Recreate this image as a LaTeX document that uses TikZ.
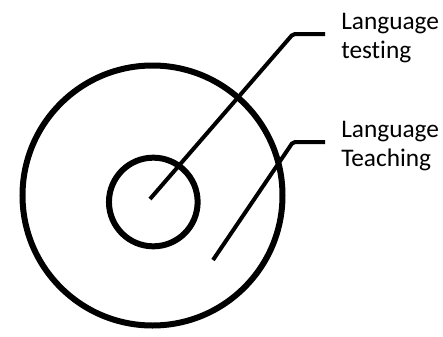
\documentclass[tikz,border=0pt]{standalone}
\usepackage{fontspec}
\setmainfont[Ligatures=NoCommon]{Carlito}

\begin{document}
\begin{tikzpicture}[x=0.75pt,y=-0.75pt,
  ring/.style={draw,circle,line width=4.5pt,inner sep=0pt},
  leader/.style={line width=3pt,rounded corners=1.5pt},
  lbl/.style={anchor=north west,inner sep=0pt,align=left,font=\fontsize{19}{22}\selectfont}]
\useasboundingbox (0,0) rectangle (443,336);
% the two rings
\node[ring,minimum size=195pt] (outer) at (152.5,195.5) {};
\node[ring,minimum size=66.5pt] (inner) at (153.3,202) {};
% labels
\node[lbl] (testing) at (341,12.5) {Language\\testing};
\node[lbl] (teaching) at (341,120.5) {Language\\Teaching};
% leader lines
\coordinate (tip1) at (150,199);
\coordinate (bend1) at (293,34);
\coordinate (tip2) at (213,260);
\coordinate (bend2) at (293,142);
\draw[leader] (tip1) -- (bend1) -- ([xshift=-12pt]testing.west |- bend1);
\draw[leader] (tip2) -- (bend2) -- ([xshift=-12pt]teaching.west |- bend2);
\end{tikzpicture}
\end{document}
